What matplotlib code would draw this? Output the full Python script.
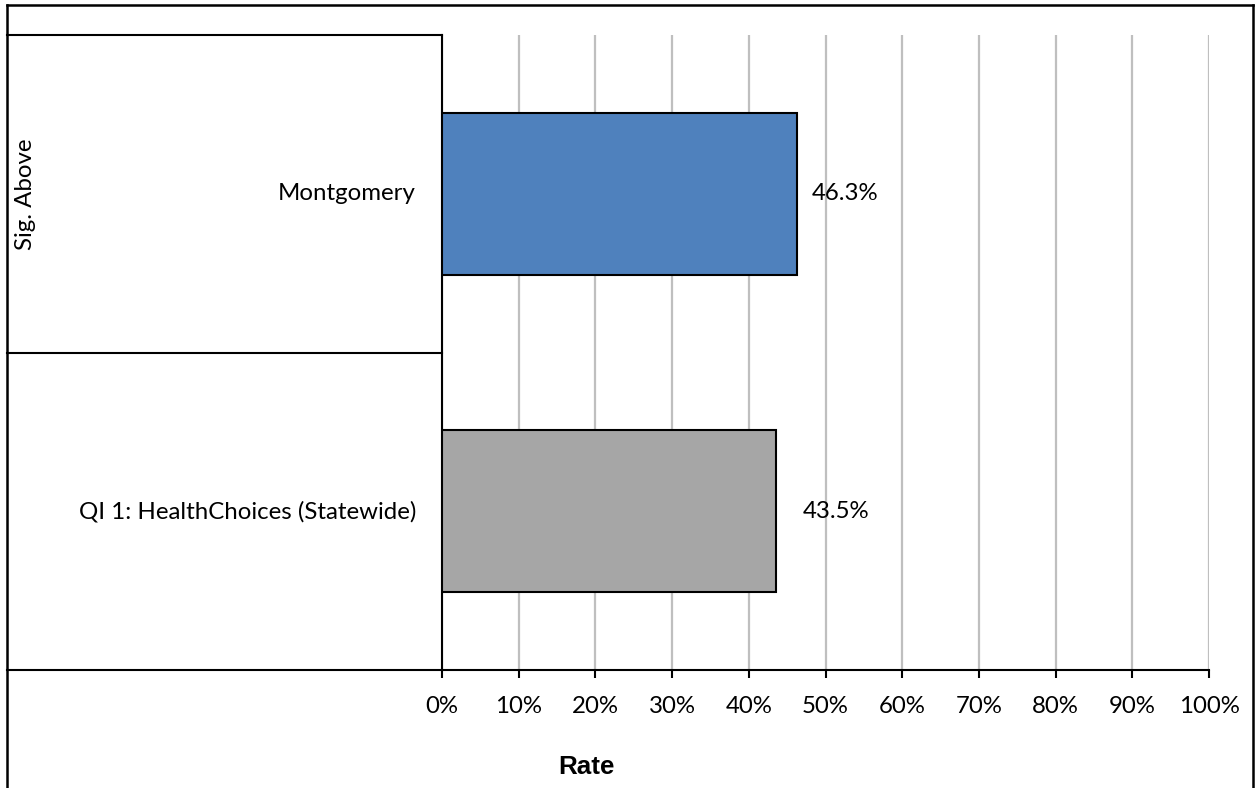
import matplotlib
matplotlib.use('Agg')
import matplotlib.pyplot as plt
from matplotlib.lines import Line2D

# data (top to bottom)
categories = ['Montgomery', 'QI 1: HealthChoices (Statewide)']
rates = [46.3, 43.5]
bar_colors = ['#4F81BD', '#A6A6A6']
label_pad = [15, 27]  # px gap between bar end and value label
group_label = 'Sig. Above'
xticks = list(range(0, 101, 10))

plt.rcParams['font.family'] = ['Lato', 'DejaVu Sans']
fs = 17.3

W, H = 1257, 788
fig = plt.figure(figsize=(W / 100, H / 100), dpi=100)
x0, x1, ytop, ybot = 442, 1209, 35, 670
ax = fig.add_axes([x0 / W, 1 - ybot / H, (x1 - x0) / W, (ybot - ytop) / H])

n = len(categories)
ypos = [n - 0.5 - i for i in range(n)]
ax.barh(ypos, rates, height=0.51, color=bar_colors, edgecolor='black', linewidth=1.5, zorder=3)

ax.set_xlim(0, 100)
ax.set_ylim(0, n)
ax.set_xticks(xticks)
ax.set_xticklabels([f'{t}%' for t in xticks], fontsize=fs)
ax.tick_params(axis='x', direction='out', length=6, width=1.5, pad=13, colors='black')
ax.set_yticks([])
ax.xaxis.grid(True, color='#BFBFBF', linewidth=1.6, zorder=0)
ax.set_axisbelow(True)
for s in ['top', 'right']:
    ax.spines[s].set_visible(False)
ax.spines['left'].set_linewidth(1.5)
ax.spines['bottom'].set_linewidth(1.5)

# value labels
for y, v, p in zip(ypos, rates, label_pad):
    ax.annotate(f'{v:.1f}%', (v, y), xytext=(p * 0.72, 0), textcoords='offset points',
                ha='left', va='center', fontsize=fs)

# category labels and the box lines on the left
left = (7 - x0) / (x1 - x0)
tr = ax.get_yaxis_transform()
for y, c in zip(ypos, categories):
    ax.text(-26 / (x1 - x0), y, c, transform=tr, ha='right', va='center', fontsize=fs)
for y in range(n + 1):
    ax.plot([left, 0], [y, y], transform=tr, color='black', linewidth=1.5, clip_on=False)
ax.text((26 - x0) / (x1 - x0), ypos[0], group_label, transform=tr, rotation=90,
        ha='center', va='center', fontsize=fs)

fig.text(586 / W, 1 - 767 / H, 'Rate', ha='center', va='center', fontsize=18.7,
         fontweight='bold', family='Liberation Sans')

# outer border
bx0, bx1, by = 7 / W, 1253 / W, 1 - 5 / H
for xs, ys in [([bx0, bx0], [-0.1, by]), ([bx0, bx1], [by, by]), ([bx1, bx1], [by, -0.1])]:
    fig.add_artist(Line2D(xs, ys, color='black', linewidth=1.8, transform=fig.transFigure))

fig.savefig('out.png', dpi=100)
